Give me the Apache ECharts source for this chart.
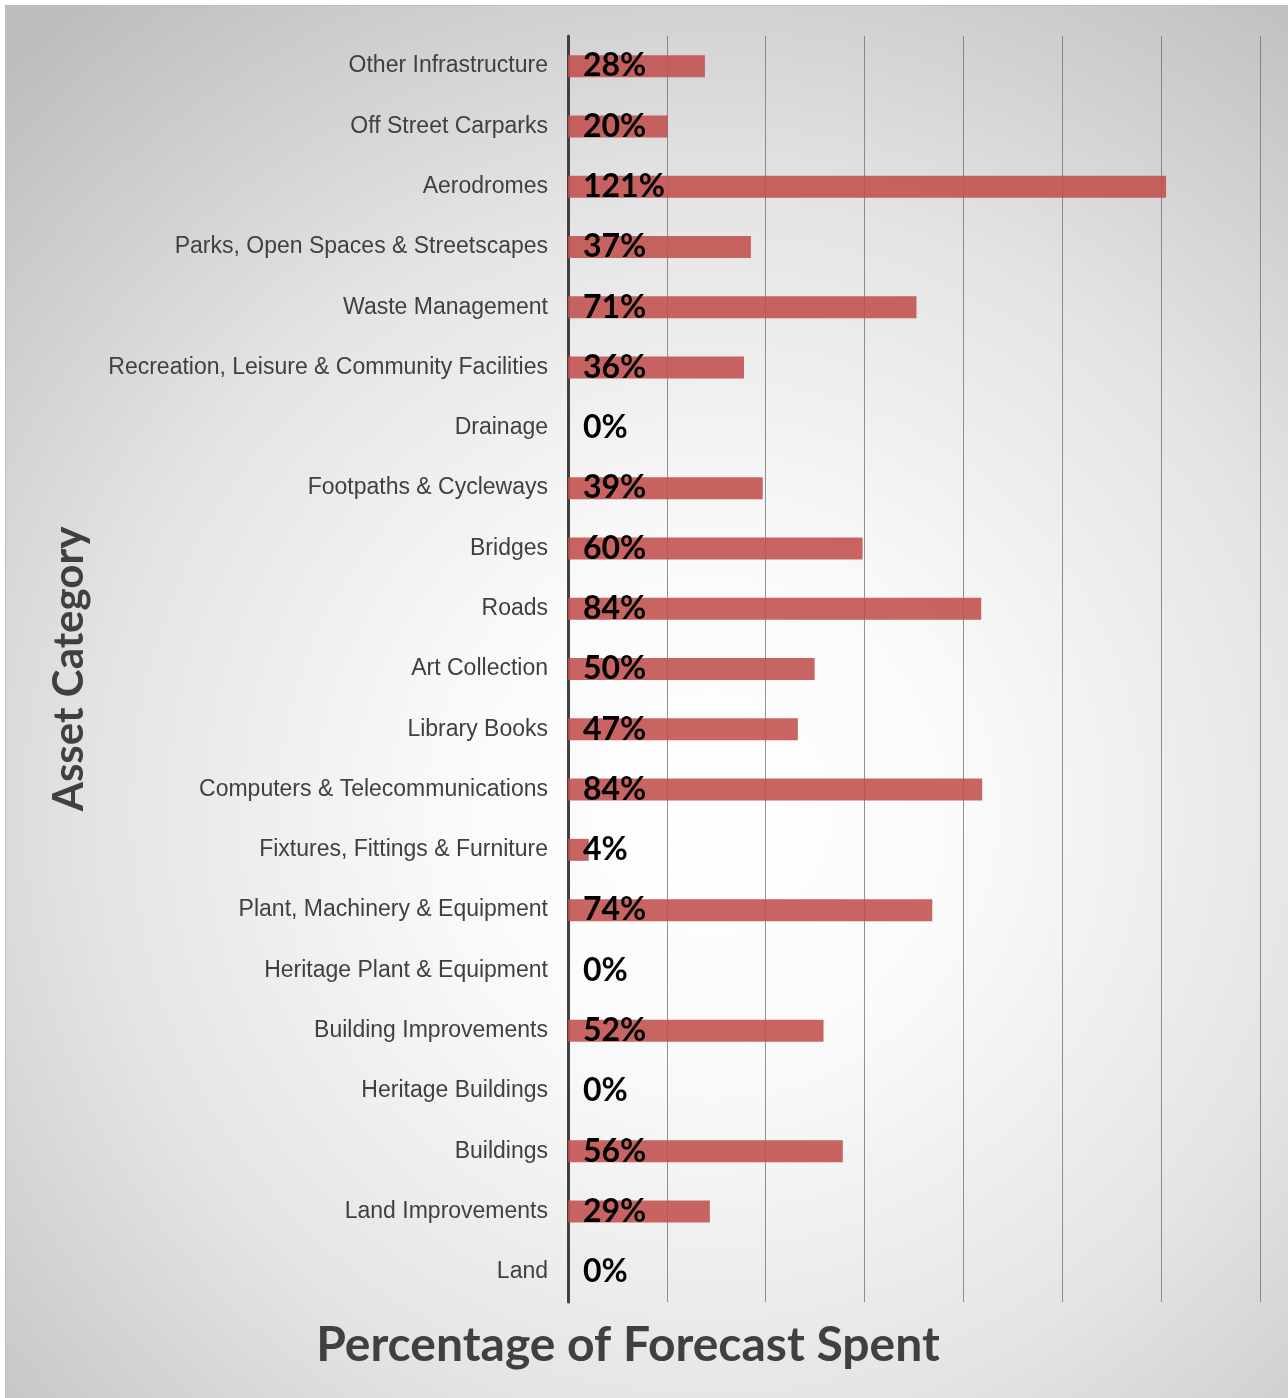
<!DOCTYPE html>
<html>
<head>
<meta charset="utf-8">
<script src="https://cdn.jsdelivr.net/npm/echarts@6/dist/echarts.min.js"></script>
<style>
html,body{margin:0;padding:0;background:#fff;}
#c{position:absolute;left:5px;top:5px;width:1283px;height:1393px;border-top:1px solid #bdbdbd;border-left:1px solid #bdbdbd;box-sizing:border-box;}
</style>
</head>
<body>
<div id="c"></div>
<script>
const categories = [
  "Other Infrastructure","Off Street Carparks","Aerodromes","Parks, Open Spaces & Streetscapes",
  "Waste Management","Recreation, Leisure & Community Facilities","Drainage","Footpaths & Cycleways",
  "Bridges","Roads","Art Collection","Library Books","Computers & Telecommunications",
  "Fixtures, Fittings & Furniture","Plant, Machinery & Equipment","Heritage Plant & Equipment",
  "Building Improvements","Heritage Buildings","Buildings","Land Improvements","Land"
];
const spentPct = [27.7,20.2,121,37,70.5,35.6,0,39.4,59.6,83.6,49.9,46.5,83.8,4.2,73.7,0,51.7,0,55.6,28.7,0];
const xTicks = {min:0,max:140,interval:20};
const xTitle = "Percentage of Forecast Spent";
const yTitle = "Asset Category";

const chart = echarts.init(document.getElementById('c'));
chart.setOption({
  animation:false,
  backgroundColor:{type:'radial',x:0.55,y:0.58,r:0.8,colorStops:[
    {offset:0,color:'#ffffff'},{offset:0.25,color:'#fafafa'},{offset:0.6,color:'#e4e4e4'},{offset:1,color:'#bdbdbd'}]},
  grid:{left:562,right:28,top:30,bottom:96},
  graphic:[{type:'text',x:622,y:1340,style:{text:xTitle,align:'center',verticalAlign:'middle',
    fontFamily:'Lato',fontWeight:'bold',fontSize:48,fill:'#404040'}}],
  xAxis:{type:'value',min:xTicks.min,max:xTicks.max,interval:xTicks.interval,
    axisLine:{show:false},axisTick:{show:false},axisLabel:{show:false},
    splitLine:{show:true,lineStyle:{color:'rgba(110,110,110,0.75)',width:1}}},
  yAxis:{type:'category',data:categories,inverse:true,
    axisLine:{show:true,lineStyle:{color:'#404040',width:3}},axisTick:{show:false},
    axisLabel:{fontFamily:'Arial, "Liberation Sans", sans-serif',fontSize:23,color:'#404040',margin:20},
    name:yTitle,nameLocation:'middle',nameGap:478,nameRotate:90,
    nameTextStyle:{fontFamily:'Lato',fontWeight:'bold',fontSize:42,color:'#404040'}},
  series:[{type:'bar',data:spentPct,barWidth:22,
    itemStyle:{color:'rgba(192,80,77,0.88)',borderWidth:0},
    label:{show:true,position:[15,'50%'],align:'left',verticalAlign:'middle',
      fontFamily:'Lato',fontWeight:'bold',fontSize:32,color:'#000',
      formatter:p=>Math.round(p.value)+'%'}}]
});
</script>
</body>
</html>
